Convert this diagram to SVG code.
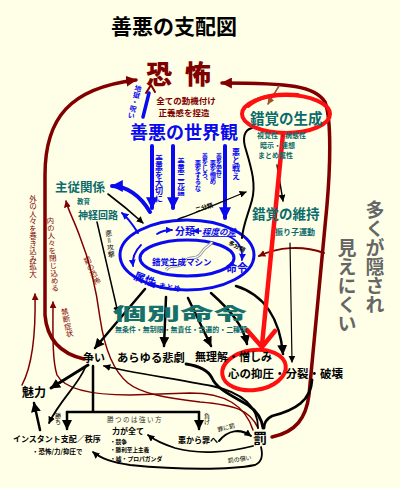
<svg xmlns="http://www.w3.org/2000/svg" width="400" height="488" viewBox="0 0 400 488">
<style>
text{font-family:"Noto Sans CJK JP","Noto Sans CJK SC",sans-serif;font-weight:bold}
.n{font-weight:normal}
.v{writing-mode:vertical-rl}
.dr{fill:#800000}
.bl{fill:#0a0aef}
.tl{fill:#0b6b6b}
.k{fill:#000}
.gy{fill:#666}
.ln{fill:none;stroke-linecap:round;stroke-linejoin:round}
.sk{stroke:#000}
.sb{stroke:#0a0aef}
.sdr{stroke:#800000}
.sr{stroke:#ff1010}
</style>
<defs>
<marker id="ak" viewBox="0 0 10 10" refX="9" refY="5" markerWidth="7" markerHeight="7" markerUnits="userSpaceOnUse" orient="auto"><path d="M0,0 L10,5 L0,10 z" fill="#000"/></marker>
<marker id="akL" viewBox="0 0 10 10" refX="9" refY="5" markerWidth="10" markerHeight="10" markerUnits="userSpaceOnUse" orient="auto"><path d="M0,0 L10,5 L0,10 z" fill="#000"/></marker>
<marker id="ab" viewBox="0 0 10 10" refX="9" refY="5" markerWidth="12" markerHeight="12" markerUnits="userSpaceOnUse" orient="auto"><path d="M0,0 L10,5 L0,10 z" fill="#0a0aef"/></marker>
<marker id="abs" viewBox="0 0 10 10" refX="9" refY="5" markerWidth="7" markerHeight="7" markerUnits="userSpaceOnUse" orient="auto"><path d="M0,0 L10,5 L0,10 z" fill="#0a0aef"/></marker>
<marker id="adr" viewBox="0 0 10 10" refX="9" refY="5" markerWidth="11" markerHeight="11" markerUnits="userSpaceOnUse" orient="auto"><path d="M0,0 L10,5 L0,10 z" fill="#800000"/></marker>
<marker id="adrs" viewBox="0 0 10 10" refX="9" refY="5" markerWidth="7" markerHeight="7" markerUnits="userSpaceOnUse" orient="auto"><path d="M0,0 L10,5 L0,10 z" fill="#800000"/></marker>
<marker id="abr" viewBox="0 0 10 10" refX="9" refY="5" markerWidth="7" markerHeight="7" markerUnits="userSpaceOnUse" orient="auto"><path d="M0,0 L10,5 L0,10 z" fill="#a0522d"/></marker>
</defs>
<rect width="400" height="488" fill="#ffffe7"/>

<g id="connectors">
  <path class="ln sdr" stroke-width="3.5" d="M84,359 C62,354 47,340 45,315 L45,175 C45,118 70,88 136,80" marker-end="url(#adr)"/>
  <path class="ln sdr" stroke-width="3.5" d="M272,437 C296,432 306,418 309,395 L318,300 L327,205 C330,170 332,120 325,102 C315,86 290,83 222,83" marker-end="url(#adr)"/>
  <path class="ln sdr" stroke-width="2" d="M324,253 C302,245 278,247 259,256" marker-end="url(#adrs)"/>
  <path class="ln" stroke="#a0522d" stroke-width="1.5" d="M279,86 L268,104" marker-end="url(#abr)"/>
  <path class="ln sdr" stroke-width="1.5" d="M22,385 C30,370 36,340 35,294" marker-end="url(#adrs)"/>
  <path class="ln sdr" stroke-width="1.5" d="M253,430 C245,405 225,393 190,393 L130,395 C95,395 65,390 57,375 C52,360 53,330 53,302" marker-end="url(#adrs)"/>
  <path class="ln sdr" stroke-width="1.5" d="M258,428 C250,410 235,405 200,402 C165,398 140,393 128,383 C112,370 104,345 100,318 C97,295 90,262 80,237 C74,220 68,210 66,201" marker-end="url(#adrs)"/>
  <path class="ln sb" stroke-width="3.5" d="M143,117 L149,93"/>
  <path class="ln sdr" stroke-width="2" d="M146,93 L151,85 L155,92"/>
  <path class="ln sb" stroke-width="4" d="M152,146 L152,208" marker-end="url(#ab)"/>
  <path class="ln sb" stroke-width="4" d="M173,146 L173,208" marker-end="url(#ab)"/>
  <path class="ln sb" stroke-width="4" d="M225,146 L225,218" marker-end="url(#ab)"/>
  <path class="ln sb" stroke-width="4" d="M150,212 C140,195 126,186 112,186" marker-end="url(#ab)"/>
  <path class="ln sb" stroke-width="2" d="M138,233 C133,225 128,218 122,213" marker-end="url(#abs)"/>
  <ellipse cx="187" cy="255" rx="67" ry="35" class="ln sb" stroke-width="3"/>
  <ellipse cx="187" cy="258" rx="47" ry="18" class="ln sb" stroke-width="3"/>
  <path class="ln sb" stroke-width="1.8" d="M157,234 Q163,230 172,230" marker-end="url(#abs)"/>
  <path class="ln sb" stroke-width="1.5" d="M201,231 L193,231" marker-end="url(#abs)"/>
  <path class="ln sb" stroke-width="1.8" d="M228,236 C238,240 243,248 242,260" marker-end="url(#abs)"/>
  <path class="ln sb" stroke-width="1.8" d="M141,245 C134,252 132,258 133,266" marker-end="url(#abs)"/>
  <path class="ln sb" stroke-width="1.5" d="M158,286 L149,284" marker-end="url(#abs)"/>
  <path d="M166,270 C172,262 178,270 184,262 C190,254 196,262 202,252 C206,246 210,246 212,242" fill="none" stroke="#999" stroke-width="3"/>
  <path d="M166,270 C172,262 178,270 184,262 C190,254 196,262 202,252 C206,246 210,246 212,242" fill="none" stroke="#fff" stroke-width="1.2"/>
  <path class="ln sk" stroke-width="2" d="M252,128 C244,130 242,138 246,150 C252,170 256,185 252,200 C248,215 243,225 242,238"/>
  <path class="ln sk" stroke-width="1.3" d="M178,219 C200,212 225,200 246,192" marker-end="url(#ak)"/>
  <path class="ln sk" stroke-width="1.5" d="M277,165 L283,201" marker-end="url(#ak)"/>
  <path class="ln sk" stroke-width="1.2" d="M290,243 L292,362" marker-end="url(#ak)"/>
  <path class="ln sk" stroke-width="1.6" d="M108,194 C120,203 132,213 143,223" marker-end="url(#ak)"/>
  <path class="ln sk" stroke-width="1.5" d="M97,222 L118,313" marker-end="url(#ak)"/>
  <path class="ln sk" stroke-width="2.5" d="M145,289 L95,348" marker-end="url(#akL)"/>
  <path class="ln sk" stroke-width="2.5" d="M166,297 L164,346" marker-end="url(#akL)"/>
  <path class="ln sk" stroke-width="2.5" d="M188,298 L211,346" marker-end="url(#akL)"/>
  <path class="ln sk" stroke-width="2.5" d="M211,293 C230,310 243,325 247,344" marker-end="url(#akL)"/>
  <path class="ln sk" stroke-width="2.5" d="M236,286 C265,295 280,320 283,354" marker-end="url(#akL)"/>
  <path class="ln sk" stroke-width="3" d="M88,365 L51,388" marker-end="url(#akL)"/>
  <path class="ln sk" stroke-width="2.5" d="M40,430 L34,403" marker-end="url(#akL)"/>
  <path class="ln sk" stroke-width="1.8" d="M85,368 C78,385 60,400 49,423" marker-end="url(#ak)"/>
  <path class="ln sk" stroke-width="2.5" d="M93,366 L93,412 M67,412 L199,412"/>
  <path class="ln sk" stroke-width="2.5" d="M67,412 L67,429" marker-end="url(#akL)"/>
  <path class="ln sk" stroke-width="2.5" d="M199,412 L199,429" marker-end="url(#akL)"/>
  <path class="ln sk" stroke-width="2" d="M219,441 C228,430 240,428 251,436" marker-end="url(#ak)"/>
  <path class="ln sk" stroke-width="1.8" d="M253,446 C230,452 200,455 175,448 C160,443 153,439 148,435" marker-end="url(#ak)"/>
  <path class="ln sk" stroke-width="1.8" d="M261,447 C263,455 262,462 255,465 C230,470 180,470 130,465 C110,462 100,458 93,452" marker-end="url(#ak)"/>
  <path class="ln sk" stroke-width="1.8" d="M258,428 C258,405 240,392 212,386 C170,378 128,372 104,366" marker-end="url(#ak)"/>
  <path class="ln sk" stroke-width="2.8" d="M186,364 C200,366 208,370 212,378 C216,388 230,395 248,405 C258,412 262,420 263,428"/>
  <path class="ln sk" stroke-width="2.8" d="M312,380 C311,400 296,410 272,416 C266,419 264,423 264,428"/>
  <ellipse cx="286" cy="114" rx="44" ry="19" class="ln sr" stroke-width="4"/>
  <path class="ln sr" stroke-width="4" d="M248,106 C258,97 276,93 298,95"/>
  <ellipse cx="254" cy="370" rx="32" ry="20" transform="rotate(-8 254 370)" class="ln sr" stroke-width="4"/>
  <path class="ln sr" stroke-width="4.5" d="M283,134 L262,345"/>
  <path class="ln sr" stroke-width="4.5" d="M247,330 L262,347 L275,331"/>
</g>

<g id="title"><text x="111" y="34" font-size="21" class="k">善悪の支配図</text></g>

<g id="fear">
  <text x="146" y="84" font-size="26" letter-spacing="13" class="dr" style="font-weight:900">恐怖</text>
  <text font-size="8.5" text-anchor="middle" class="dr"><tspan x="186" y="103.5">全ての動機付け</tspan><tspan x="184" y="116">正義感を捏造</tspan></text>
  <text class="v bl" x="139" y="85" font-size="7" transform="rotate(14 139 85)">地獄・呪い</text>
</g>

<g id="worldview">
  <text x="130" y="139" font-size="18" class="bl">善悪の世界観</text>
  <text class="v bl" x="159" y="155" font-size="8">善悪を大切に</text>
  <text class="v bl" x="181" y="158" font-size="7.5">善悪二元論</text>
  <text class="v bl" x="205" y="153" font-size="6.3">善をしろ、</text>
  <text class="v bl" x="198" y="160" font-size="6.3">悪をするな</text>
  <text class="v bl" x="219" y="153" font-size="6.3">善を愛せ</text>
  <text class="v bl" x="213" y="160" font-size="6.3">悪を憎め</text>
  <text class="v bl" x="236" y="148" font-size="8">悪と戦え</text>
</g>

<g id="illusion-gen">
  <text x="250" y="124" font-size="14.5" class="tl">錯覚の生成</text>
  <text font-size="7" class="tl"><tspan x="257" y="137.5">視覚性・病態性</tspan><tspan x="260" y="147.5">暗示・連想</tspan><tspan x="258" y="157.5">まとめ属性</tspan></text>
</g>

<g id="illusion-keep">
  <text x="252" y="219" font-size="13.5" class="tl">錯覚の維持</text>
  <text x="275" y="235" font-size="8" class="tl">振り子運動</text>
</g>

<g id="hidden">
  <text class="v gy" x="375" y="200" font-size="19">多くが隠され</text>
  <text class="v gy" x="347" y="238" font-size="19">見えにくい</text>
</g>

<g id="master">
  <text x="55" y="192" font-size="12.5" class="tl">主従関係</text>
  <text x="77" y="204" font-size="6.5" class="tl">教育</text>
  <text x="78" y="219" font-size="10" class="tl">神経回路</text>
  <text class="v k n" x="108" y="230" font-size="7" transform="rotate(-8 108 230)">悪＝攻撃</text>
</g>

<g id="side-labels">
  <text class="v dr n" x="33" y="195" font-size="7.5">外の人々を巻き込み拡大</text>
  <text class="v dr n" x="50" y="217" font-size="7.5" transform="rotate(-4 50 217)">内の人々を閉じ込める</text>
  <text class="v dr n" x="86" y="257" font-size="7.5" transform="rotate(-24 86 257)">罰の恐怖</text>
  <text class="v dr n" x="64" y="308" font-size="7.5" transform="rotate(-12 64 308)">禁断症状</text>
</g>

<g id="machine">
  <text x="175" y="235" font-size="10" class="bl">分類</text>
  <text x="202" y="235" font-size="8.5" class="bl" font-style="italic" text-decoration="underline">程度の差</text>
  <text x="228" y="244" font-size="6" class="k" transform="rotate(28 228 244)">多分類</text>
  <text x="196" y="212" font-size="6" class="k" transform="rotate(-16 196 212)">二分類</text>
  <text x="152" y="265" font-size="8.5" class="bl">錯覚生成マシン</text>
  <text x="226" y="272" font-size="11" class="bl">命令</text>
  <text x="133" y="279" font-size="11" class="bl" transform="rotate(22 133 279)">属性</text>
  <text x="158" y="288" font-size="7.5" class="bl" transform="rotate(10 158 288)">まとめ</text>
</g>

<g id="orders">
  <text x="113" y="320" font-size="17" textLength="134" lengthAdjust="spacingAndGlyphs" fill="#16706c" style="font-weight:900">個別命令</text>
  <text x="115" y="332" font-size="7" textLength="132" lengthAdjust="spacingAndGlyphs" class="tl">無条件・無制限・無責任・普遍的・二種類</text>
</g>

<g id="results">
  <text x="83" y="362" font-size="11" class="k">争い</text>
  <text x="117" y="362" font-size="11.3" class="k">あらゆる悲劇</text>
  <text x="195" y="360.5" font-size="11" class="k">無理解・憎しみ</text>
  <text x="228" y="377.5" font-size="11.5" class="k">心の抑圧・分裂・破壊</text>
</g>

<g id="charm"><text x="22" y="397" font-size="12" class="k">魅力</text></g>

<g id="win-lose">
  <text class="v k n" x="58" y="413" font-size="6">勝ち</text>
  <text class="v k n" x="207" y="413" font-size="6">負け</text>
  <text x="107" y="422" font-size="6.5" letter-spacing="1.5" fill="#333" class="n">勝つのは強い方</text>
</g>

<g id="instant">
  <text class="k"><tspan x="13" y="442" font-size="8">インスタント支配／秩序</tspan><tspan x="32" y="453.5" font-size="6.5">・恐怖/力/抑圧で</tspan></text>
</g>

<g id="power">
  <text class="k"><tspan x="112" y="434" font-size="8">力が全て</tspan><tspan x="110" y="444" font-size="5.6">・競争</tspan><tspan x="110" y="452.3" font-size="5.6">・勝利至上主義</tspan><tspan x="110" y="460.6" font-size="5.8">・嘘・プロパガンダ</tspan></text>
</g>

<g id="evil-sin"><text x="178" y="443" font-size="8" class="k">悪から罪へ</text></g>

<g id="punish">
  <text x="253" y="443" font-size="14" class="k">罰</text>
  <text x="218" y="432" font-size="6" class="k n" transform="rotate(-15 218 432)">罪に罰</text>
  <text x="228" y="463" font-size="6" class="k n" transform="rotate(-8 228 463)">罰の償い</text>
</g>
</svg>
